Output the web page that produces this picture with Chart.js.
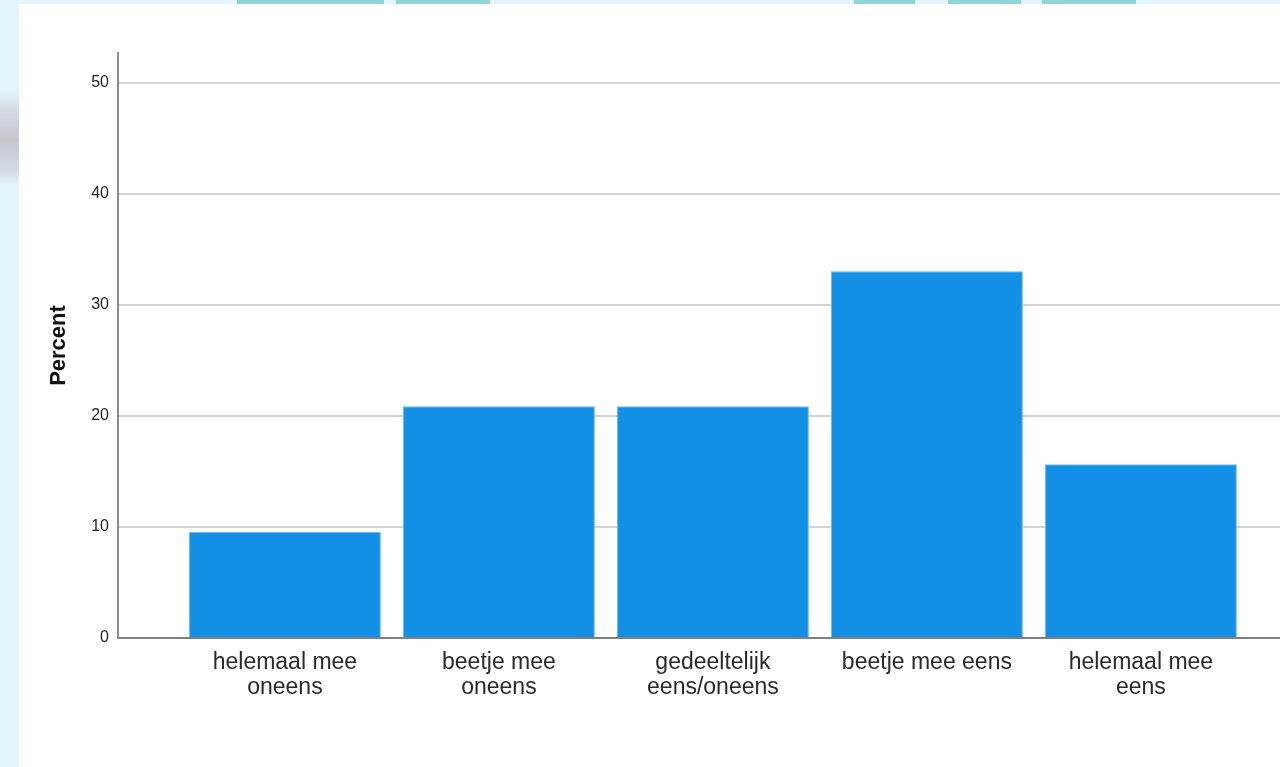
<!DOCTYPE html>
<html>
<head>
<meta charset="utf-8">
<script src="https://cdn.jsdelivr.net/npm/chart.js@4.4.1/dist/chart.umd.min.js"></script>
<style>
  html, body { margin: 0; padding: 0; width: 1280px; height: 767px; overflow: hidden; }
  body {
    background: #e3f4fc;
    position: relative;
    font-family: "Liberation Sans", Arial, sans-serif;
  }
  /* top strip decoration */
  #topstrip {
    position: absolute; left: 0; top: 0; width: 1280px; height: 4px;
    background: linear-gradient(to right,
      #e3f4fc 0, #e3f4fc 237px, #8fd6d8 237px, #8fd6d8 384px, #e3f4fc 384px,
      #e3f4fc 396px, #8fd6d8 396px, #8fd6d8 490px, #e3f4fc 490px,
      #e3f4fc 854px, #8fd6d8 854px, #8fd6d8 915px, #e3f4fc 915px,
      #e3f4fc 948px, #8fd6d8 948px, #8fd6d8 1021px, #e3f4fc 1021px,
      #e3f4fc 1042px, #8fd6d8 1042px, #8fd6d8 1136px, #e3f4fc 1136px);
  }
  /* left strip decoration */
  #leftstrip {
    position: absolute; left: 0; top: 0; width: 19px; height: 767px;
    background: linear-gradient(to bottom,
      #e3f4fc 0, #e3f4fc 90px, #d5dbe2 110px, #c4c6cc 140px, #d5dbe2 170px, #e3f4fc 185px, #e3f4fc 767px);
  }
  #panel {
    position: absolute; left: 19px; top: 4px; width: 1261px; height: 763px;
    background: #ffffff;
  }
</style>
</head>
<body>
<div id="topstrip"></div>
<div id="leftstrip"></div>
<div id="panel"><canvas id="chart" width="1261" height="763"></canvas></div>
<script>
  // categories (each split in display lines)
  var categories = [
    ['helemaal mee', 'oneens'],
    ['beetje mee', 'oneens'],
    ['gedeeltelijk', 'eens/oneens'],
    ['beetje mee eens'],
    ['helemaal mee', 'eens']
  ];
  var percentValues = [9.57, 20.87, 20.87, 33.04, 15.65];
  var yTicks = [0, 10, 20, 30, 40, 50];

  var barColor = '#1390e6';

  var points = percentValues.map(function(v, i) { return { x: i, y: v }; });

  new Chart(document.getElementById('chart'), {
    type: 'bar',
    data: {
      datasets: [{
        label: 'Percent',
        data: points,
        backgroundColor: barColor,
        borderColor: '#6fb8ee',
        borderWidth: 1,
        categoryPercentage: 1,
        barPercentage: 0.897
      }]
    },
    options: {
      responsive: false,
      animation: false,
      layout: { padding: { top: 49, right: 0, left: 0, bottom: 0 } },
      plugins: { legend: { display: false }, tooltip: { enabled: false } },
      scales: {
        x: {
          type: 'linear',
          offset: false,
          min: -0.78,
          max: 4.65,
          grid: { display: true, color: 'transparent', drawTicks: false, offset: false },
          border: { display: true, color: '#7f7f7f', width: 2 },
          afterBuildTicks: function(scale) {
            scale.ticks = categories.map(function(c, i) { return { value: i }; });
          },
          afterFit: function(scale) { scale.height = 129; },
          ticks: {
            autoSkip: false,
            maxRotation: 0,
            padding: 12,
            color: '#2a2a2a',
            font: { family: '"Liberation Sans", Arial, sans-serif', size: 23, lineHeight: 1.09 },
            callback: function(v) { return categories[v]; }
          }
        },
        y: {
          min: 0,
          max: 52.7,
          grid: { color: '#d3d3d3', lineWidth: 2, drawTicks: false },
          border: { display: true, color: '#8c8c8c', width: 2 },
          afterBuildTicks: function(scale) {
            scale.ticks = yTicks.map(function(t) { return { value: t }; });
          },
          afterFit: function(scale) { scale.width = 99; },
          ticks: {
            padding: 9,
            color: '#222',
            font: { family: '"Liberation Sans", Arial, sans-serif', size: 16 }
          },
          title: {
            display: true,
            text: 'Percent',
            color: '#111',
            padding: { top: 27, bottom: 0 },
            font: { family: '"Liberation Sans", Arial, sans-serif', size: 22, weight: 'bold' }
          }
        }
      }
    }
  });
</script>
</body>
</html>
